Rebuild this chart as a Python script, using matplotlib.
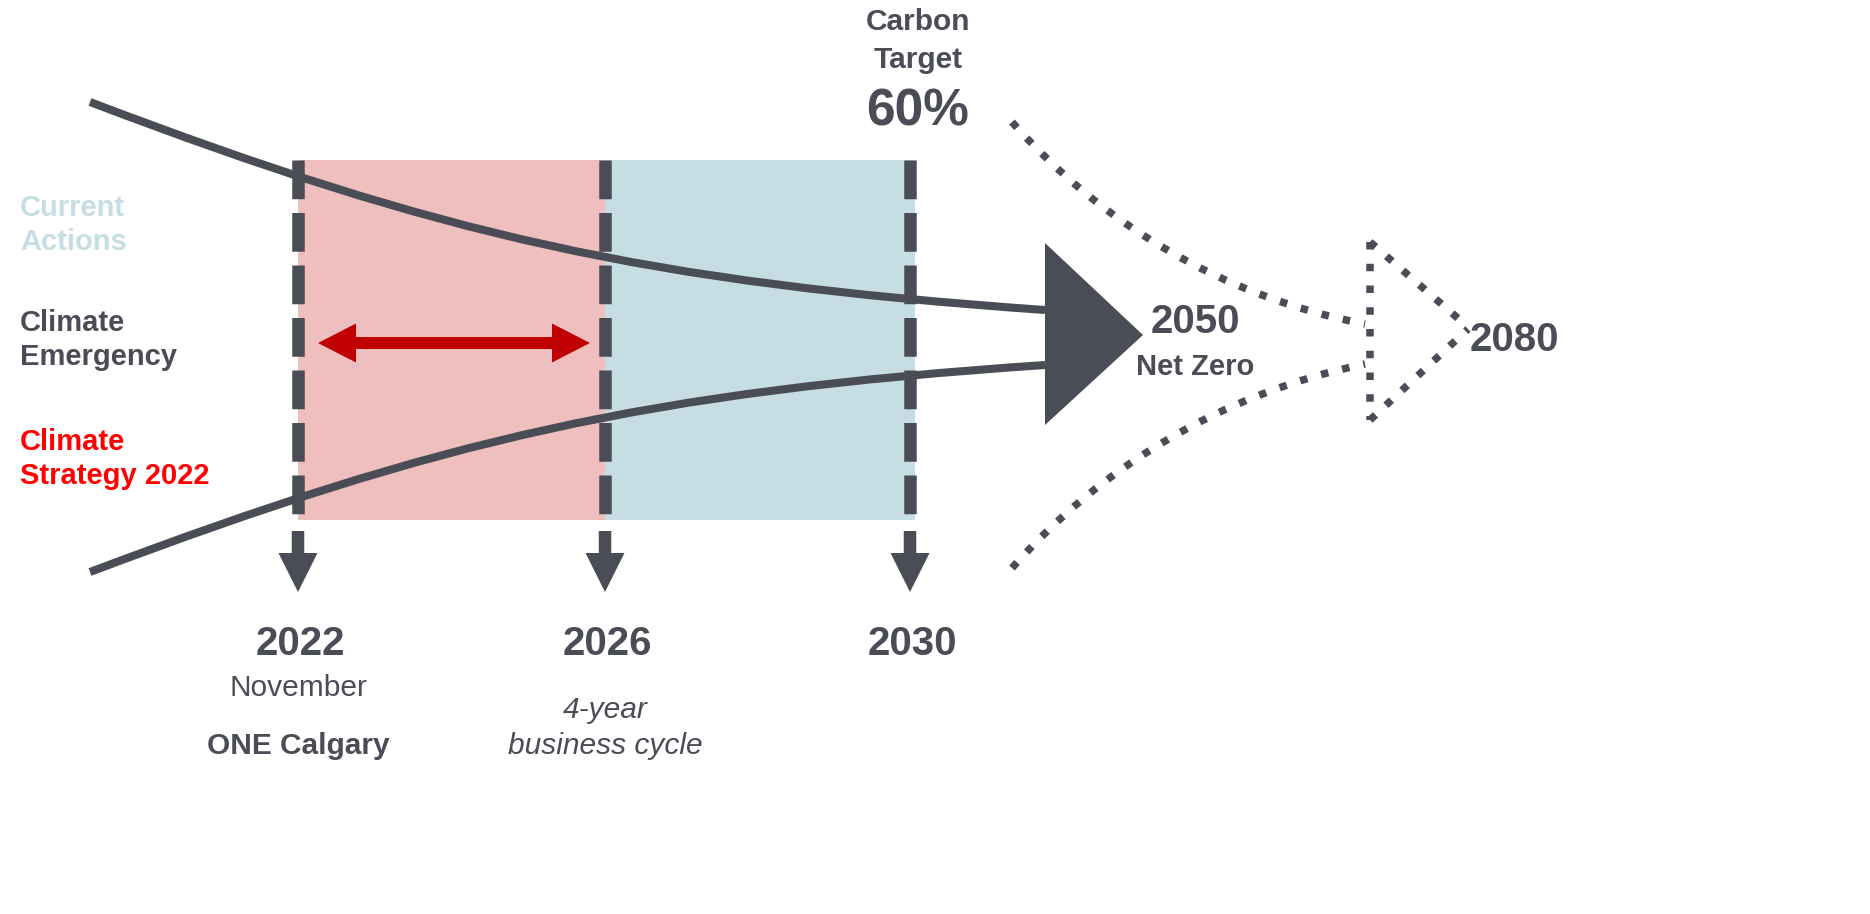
import matplotlib.pyplot as plt
from matplotlib import patches
from matplotlib.path import Path

plt.rcParams['font.family'] = ['Liberation Sans', 'DejaVu Sans']

GRAY = '#4a4d55'
PINK = '#efbebe'
BLUE = '#c7dde4'
RED = '#ff0000'
DARKRED = '#c00000'

# milestones along the timeline (pixel layout of the schematic)
milestone_years = ['2022', '2026', '2030']
milestone_x = [298, 605, 910]
milestone_notes = [['November', 'ONE Calgary'], ['4-year', 'business cycle'], []]

# shaded periods
period_edges = [298, 605, 915]
period_colors = [PINK, BLUE]
period_top, period_bottom = 160, 520

# bezier control points of the two pathway curves
upper_curve = [(90, 102), (440, 235), (645, 282), (1045, 310)]
lower_curve = [(90, 572), (440, 440), (645, 392), (1045, 365)]
# dotted curves beyond 2050
upper_dotted = [(1012, 122), (1100, 222), (1220, 296), (1365, 324)]
lower_dotted = [(1012, 568), (1100, 468), (1220, 394), (1365, 364)]

legend_labels = ['Current\nActions', 'Climate\nEmergency', 'Climate\nStrategy 2022']
legend_colors = [BLUE, GRAY, RED]
legend_y = [225, 340, 459]


def bezier(ax, pts, **kw):
    p = Path(pts, [Path.MOVETO, Path.CURVE4, Path.CURVE4, Path.CURVE4])
    ax.add_patch(patches.PathPatch(p, facecolor='none', **kw))


fig = plt.figure(figsize=(18.7, 9.14), dpi=100)
ax = fig.add_axes([0, 0, 1, 1])
ax.set_xlim(0, 1870)
ax.set_ylim(914, 0)
ax.set_axis_off()

# period boxes
for i in range(len(period_colors)):
    ax.add_patch(patches.Rectangle((period_edges[i], period_top),
                                   period_edges[i + 1] - period_edges[i],
                                   period_bottom - period_top,
                                   facecolor=period_colors[i], edgecolor='none', zorder=1))

# dashed milestone lines + down arrows
for x in milestone_x:
    ax.plot([x, x], [period_top, 517], color=GRAY, lw=9, solid_capstyle='butt',
            dashes=(3.1, 1.1), zorder=3)
    ax.add_patch(patches.FancyArrow(x, 531, 0, 61, width=12.5, head_width=39,
                                    head_length=39, length_includes_head=True,
                                    color=GRAY, lw=0, zorder=3))

# pathway curves
bezier(ax, upper_curve, edgecolor=GRAY, lw=5.8, capstyle='butt', zorder=4)
bezier(ax, lower_curve, edgecolor=GRAY, lw=5.8, capstyle='butt', zorder=4)

# 2050 arrowhead
ax.add_patch(patches.Polygon([(1045, 243), (1045, 425), (1143, 335)],
                             closed=True, facecolor=GRAY, edgecolor='none', zorder=4))

# dotted extension to 2080
dot = dict(edgecolor=GRAY, lw=5.4, linestyle=(0, (1, 1.9)), capstyle='butt', zorder=4)
bezier(ax, upper_dotted, **dot)
bezier(ax, lower_dotted, **dot)
ax.plot([1370, 1370], [242, 420], color=GRAY, lw=5.4, dashes=(1, 1.9), zorder=4)
ax.plot([1370, 1468], [242, 327], color=GRAY, lw=5.4, dashes=(1, 1.9), zorder=4)
ax.plot([1370, 1468], [420, 329], color=GRAY, lw=5.4, dashes=(1, 1.9), zorder=4)

# red double arrow across the 2022-2026 period
mid = (318 + 590) / 2
for dx in (318 - mid, 590 - mid):
    ax.add_patch(patches.FancyArrow(mid, 343, dx, 0, width=12, head_width=39,
                                    head_length=38, length_includes_head=True,
                                    color=DARKRED, lw=0, zorder=5))

# left legend labels
for lab, col, y in zip(legend_labels, legend_colors, legend_y):
    ax.text(20, y, lab, color=col, fontsize=21, fontweight='bold',
            ha='left', va='center', linespacing=1.25)

# milestone labels
for x, yr, notes in zip(milestone_x, milestone_years, milestone_notes):
    ax.text(x + 2, 644, yr, color=GRAY, fontsize=29, fontweight='bold', ha='center', va='center')
for x, notes, style in zip(milestone_x[:2], milestone_notes[:2], ['normal', 'italic']):
    if style == 'normal':
        ax.text(x, 688, notes[0], color=GRAY, fontsize=21.5, ha='center', va='center')
        ax.text(x, 746, notes[1], color=GRAY, fontsize=21.5, fontweight='bold', ha='center', va='center')
    else:
        ax.text(x, 710, notes[0], color=GRAY, fontsize=21.5, style='italic', ha='center', va='center')
        ax.text(x, 746, notes[1], color=GRAY, fontsize=21.5, style='italic', ha='center', va='center')

# carbon target
ax.text(918, 22, 'Carbon', color=GRAY, fontsize=21.5, fontweight='bold', ha='center', va='center')
ax.text(918, 60, 'Target', color=GRAY, fontsize=21.5, fontweight='bold', ha='center', va='center')
ax.text(918, 112, '60%', color=GRAY, fontsize=37, fontweight='bold', ha='center', va='center')

# 2050 / 2080
ax.text(1195, 322, '2050', color=GRAY, fontsize=29, fontweight='bold', ha='center', va='center')
ax.text(1195, 367, 'Net Zero', color=GRAY, fontsize=21, fontweight='bold', ha='center', va='center')
ax.text(1514, 340, '2080', color=GRAY, fontsize=29, fontweight='bold', ha='center', va='center')

fig.savefig('out.png', dpi=100, facecolor='white')
